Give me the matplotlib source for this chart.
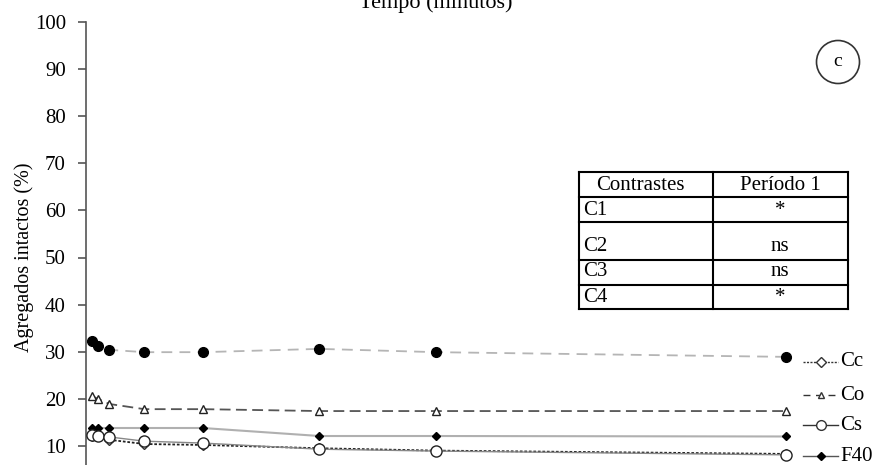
import matplotlib
matplotlib.use("Agg")
import matplotlib.pyplot as plt
from matplotlib.lines import Line2D
from matplotlib.patches import Circle

plt.rcParams['font.family'] = ['Liberation Serif', 'DejaVu Serif']

# tempo em minutos
tempo = [0.5, 1, 2, 5, 10, 20, 30, 60]

# series (agregados intactos, %)
serie_circulo = [32.3, 31.2, 30.4, 29.9, 29.9, 30.6, 29.9, 28.9]
co = [20.6, 20.0, 18.9, 17.8, 17.8, 17.4, 17.4, 17.4]
f40 = [13.8, 13.8, 13.8, 13.8, 13.8, 12.1, 12.1, 12.0]
cs = [12.3, 12.1, 11.9, 11.0, 10.6, 9.3, 8.9, 8.1]
cc = [12.1, 12.0, 11.3, 10.4, 10.2, 9.5, 9.0, 8.3]

yticks = [10, 20, 30, 40, 50, 60, 70, 80, 90, 100]

contrastes = ["C1", "C2", "C3", "C4"]
periodo1 = ["*", "ns", "ns", "*"]

W, H = 880, 465
fig = plt.figure(figsize=(W / 100, H / 100), dpi=100)

def fx(px):
    return px / W

def fy(py):
    return 1 - py / H

ax = fig.add_axes([fx(86), fy(493), fx(804) - fx(86), fy(22) - fy(493)])
ax.set_xlim(0, 61.5)
ax.set_ylim(0, 100)

ax.plot(tempo, serie_circulo, color='#b5b5b5', ls=(0, (6, 4)), lw=1.3,
        marker='o', ms=7, mfc='black', mec='black', zorder=3)
ax.plot(tempo, co, color='#555555', ls=(0, (6, 3)), lw=1.3,
        marker='^', ms=6, mfc='white', mec='#222222', zorder=3)
ax.plot(tempo, f40, color='#b0b0b0', ls='-', lw=1.5,
        marker='D', ms=4.5, mfc='black', mec='black', zorder=3)
ax.plot(tempo, cc, color='#222222', ls=(0, (1.5, 1)), lw=1.3,
        marker='D', ms=5, mfc='white', mec='#333333', zorder=3)
ax.plot(tempo, cs, color='#888888', ls='-', lw=1.0,
        marker='o', ms=8, mfc='white', mec='#222222', zorder=4)

for s in ['top', 'right', 'bottom']:
    ax.spines[s].set_visible(False)
ax.spines['left'].set_color('#555555')
ax.spines['left'].set_linewidth(1.2)
ax.set_xticks([])
ax.set_yticks(yticks)
ax.tick_params(axis='y', direction='out', length=6, width=1.2, color='#555555',
               labelsize=15, pad=8.5)
ax.set_ylabel("Agregados intactos (%)", fontsize=14.5)
ax.yaxis.set_label_coords(-0.073, 0.50)

# titulo cortado no topo
fig.text(fx(436), fy(8), "Tempo (minutos)", ha='center', va='baseline', fontsize=16)

# circulo com letra
fig.add_artist(Circle((8.38, (H - 62) / 100), 0.215, transform=fig.dpi_scale_trans,
                      fill=False, ec='#333333', lw=1.2))
fig.text(fx(838), fy(62), "c", ha='center', va='center', fontsize=14)

# tabela de contrastes
cols = [579, 713, 848]
rows = [172, 197, 222, 260, 285, 309]
for r in rows:
    fig.add_artist(Line2D([fx(cols[0]), fx(cols[2])], [fy(r), fy(r)], color='black', lw=1.5))
for c in cols:
    fig.add_artist(Line2D([fx(c), fx(c)], [fy(rows[0]), fy(rows[-1])], color='black', lw=1.5))
fig.text(fx(640), fy(185), "Contrastes", ha='center', va='center', fontsize=15)
fig.text(fx(780), fy(185), "Período 1", ha='center', va='center', fontsize=15)
text_y = [210, 246, 272, 297]
for i, (c, p) in enumerate(zip(contrastes, periodo1)):
    fig.text(fx(583), fy(text_y[i]), c, ha='left', va='center', fontsize=15)
    fig.text(fx(780), fy(text_y[i]), p, ha='center', va='center', fontsize=15)

# legenda manual
leg = [
    ("Cc", 362, dict(color='#333333', ls=(0, (1.5, 1)), marker='D', ms=5, mfc='white', mec='#333333')),
    ("Co", 395, dict(color='#333333', ls=(0, (5, 4)), marker='^', ms=5, mfc='white', mec='#333333')),
    ("Cs", 425, dict(color='#333333', ls='-', marker='o', ms=7, mfc='white', mec='#333333')),
    ("F40", 456, dict(color='#555555', ls='-', marker='D', ms=4, mfc='black', mec='black')),
]
for nome, py, kw in leg:
    fig.add_artist(Line2D([fx(803), fx(820.5), fx(838)], [fy(py), fy(py), fy(py)],
                          lw=1.0, markevery=[1], **kw))
    fig.text(fx(840), fy(py), nome, ha='left', va='center', fontsize=15)

fig.savefig("out.png", dpi=100)
